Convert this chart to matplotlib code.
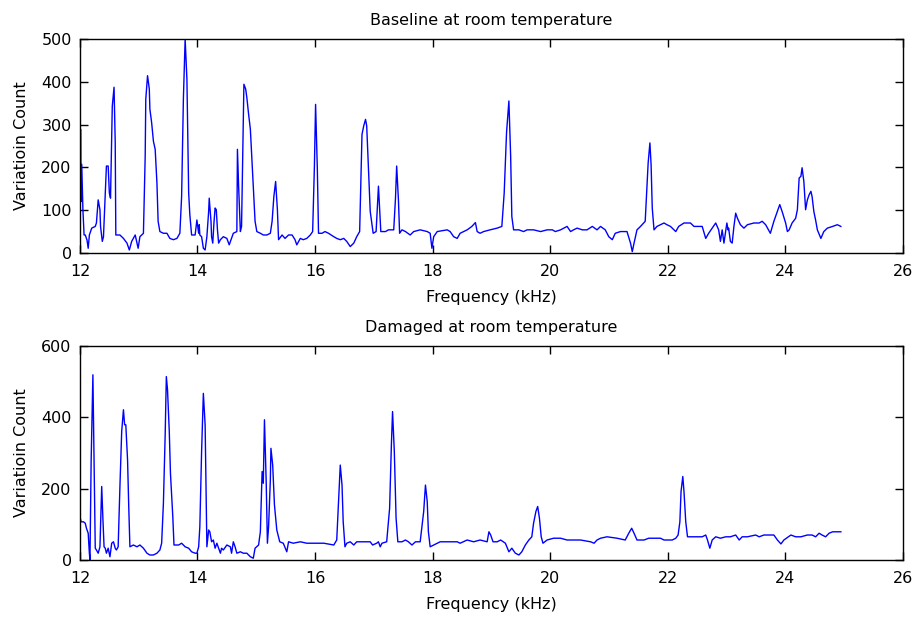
import matplotlib
matplotlib.use("Agg")
import matplotlib.pyplot as plt

plt.rcParams['font.family'] = ['DejaVu Sans']
plt.rcParams['font.size'] = 11.5

# Baseline at room temperature (frequency in kHz, variation count)
freq_base = [12.00, 12.01, 12.02, 12.03, 12.05, 12.07, 12.09, 12.12, 12.14, 12.16,
             12.20, 12.26, 12.28, 12.31, 12.34, 12.35, 12.38, 12.40, 12.43, 12.45,
             12.48, 12.50, 12.52, 12.55, 12.58, 12.60, 12.61, 12.68, 12.74, 12.80,
             12.84, 12.88, 12.94, 12.97, 12.99, 13.02, 13.08, 13.11, 13.12, 13.15,
             13.18, 13.19, 13.22, 13.25, 13.28, 13.31, 13.33, 13.36, 13.42, 13.48,
             13.53, 13.59, 13.65, 13.70, 13.73, 13.76, 13.79, 13.82, 13.85, 13.87,
             13.90, 13.96, 13.99, 14.02, 14.03, 14.04, 14.07, 14.10, 14.13, 14.16,
             14.19, 14.20, 14.23, 14.24, 14.26, 14.28, 14.30, 14.32, 14.34, 14.36,
             14.39, 14.44, 14.50, 14.54, 14.58, 14.61, 14.67, 14.68, 14.70, 14.73,
             14.75, 14.77, 14.79, 14.82, 14.84, 14.87, 14.90, 14.92, 14.95, 14.98,
             15.01, 15.07, 15.12, 15.18, 15.24, 15.27, 15.30, 15.33, 15.36, 15.38,
             15.44, 15.49, 15.55, 15.61, 15.66, 15.69, 15.75, 15.80, 15.86, 15.92,
             15.96, 15.99, 16.01, 16.04, 16.06, 16.12, 16.17, 16.23, 16.32, 16.37,
             16.43, 16.49, 16.54, 16.60, 16.66, 16.71, 16.76, 16.78, 16.80, 16.83,
             16.86, 16.88, 16.91, 16.94, 16.97, 16.99, 17.04, 17.08, 17.10, 17.12,
             17.20, 17.25, 17.34, 17.37, 17.39, 17.42, 17.44, 17.48, 17.54, 17.62,
             17.68, 17.79, 17.91, 17.96, 17.99, 18.02, 18.08, 18.25, 18.30, 18.36,
             18.42, 18.47, 18.59, 18.67, 18.73, 18.76, 18.81, 18.87, 18.98, 19.10,
             19.18, 19.22, 19.26, 19.30, 19.33, 19.35, 19.38, 19.47, 19.55, 19.61,
             19.72, 19.84, 19.95, 20.04, 20.09, 20.18, 20.29, 20.35, 20.40, 20.46,
             20.55, 20.63, 20.72, 20.80, 20.86, 20.94, 21.00, 21.06, 21.11, 21.20,
             21.31, 21.37, 21.40, 21.43, 21.48, 21.54, 21.62, 21.65, 21.67, 21.70,
             21.72, 21.74, 21.77, 21.82, 21.94, 21.99, 22.05, 22.11, 22.14, 22.19,
             22.28, 22.39, 22.45, 22.59, 22.65, 22.70, 22.76, 22.82, 22.87, 22.90,
             22.93, 22.96, 23.01, 23.03, 23.04, 23.07, 23.10, 23.13, 23.16, 23.19,
             23.24, 23.30, 23.36, 23.47, 23.56, 23.61, 23.67, 23.75, 23.81, 23.87,
             23.91, 23.95, 24.01, 24.04, 24.07, 24.12, 24.18, 24.21, 24.24, 24.27,
             24.29, 24.32, 24.35, 24.38, 24.41, 24.44, 24.46, 24.49, 24.52, 24.55,
             24.61, 24.66, 24.72, 24.81, 24.89, 24.95]
count_base = [38, 289, 120, 207, 101, 42, 42, 30, 11, 42,
              58, 62, 70, 124, 101, 62, 27, 38, 140, 203,
              203, 140, 128, 343, 387, 257, 42, 42, 34, 23,
              7, 27, 42, 23, 11, 38, 46, 226, 359, 414,
              383, 336, 304, 261, 242, 163, 74, 50, 46, 46,
              34, 31, 34, 46, 132, 359, 500, 406, 140, 89,
              42, 42, 77, 46, 66, 42, 38, 11, 7, 38,
              97, 128, 74, 38, 23, 70, 105, 101, 54, 23,
              31, 38, 34, 19, 34, 46, 50, 242, 156, 50,
              62, 222, 394, 383, 363, 324, 289, 234, 148, 74,
              50, 46, 42, 42, 46, 74, 132, 167, 101, 31,
              42, 34, 42, 42, 31, 19, 34, 31, 34, 42,
              50, 203, 347, 195, 46, 46, 50, 46, 38, 34,
              31, 34, 27, 15, 23, 38, 50, 163, 277, 297,
              312, 297, 199, 97, 66, 46, 50, 156, 101, 50,
              50, 54, 54, 128, 203, 124, 46, 54, 50, 42,
              50, 54, 50, 46, 11, 38, 50, 54, 50, 38,
              34, 46, 54, 62, 71, 50, 46, 50, 54, 58,
              62, 140, 281, 355, 226, 85, 54, 54, 50, 54,
              54, 50, 54, 54, 50, 54, 62, 50, 54, 58,
              54, 54, 62, 54, 62, 54, 38, 31, 46, 50,
              50, 23, 3, 23, 54, 62, 74, 156, 210, 257,
              207, 105, 54, 62, 70, 66, 62, 54, 50, 62,
              70, 70, 62, 62, 34, 46, 58, 70, 54, 27,
              54, 23, 70, 54, 58, 27, 23, 62, 93, 81,
              66, 58, 66, 70, 70, 74, 66, 46, 74, 97,
              113, 97, 70, 50, 54, 70, 81, 101, 175, 179,
              199, 167, 101, 124, 136, 144, 132, 97, 77, 54,
              34, 50, 58, 62, 66, 62]

# Damaged at room temperature
freq_dmg = [12.00, 12.02, 12.06, 12.09, 12.11, 12.14, 12.16, 12.17, 12.19, 12.22,
            12.24, 12.26, 12.28, 12.31, 12.34, 12.37, 12.39, 12.41, 12.43, 12.45,
            12.48, 12.51, 12.54, 12.57, 12.60, 12.62, 12.65, 12.68, 12.71, 12.74,
            12.76, 12.78, 12.81, 12.83, 12.85, 12.91, 12.97, 13.02, 13.08, 13.14,
            13.19, 13.25, 13.31, 13.36, 13.39, 13.42, 13.45, 13.47, 13.49, 13.52,
            13.54, 13.58, 13.60, 13.68, 13.73, 13.79, 13.85, 13.90, 13.96, 13.99,
            14.02, 14.04, 14.07, 14.10, 14.13, 14.16, 14.19, 14.21, 14.24, 14.27,
            14.30, 14.33, 14.39, 14.41, 14.44, 14.50, 14.56, 14.58, 14.61, 14.64,
            14.67, 14.73, 14.78, 14.84, 14.90, 14.95, 14.98, 15.04, 15.07, 15.10,
            15.12, 15.14, 15.17, 15.19, 15.21, 15.24, 15.25, 15.28, 15.31, 15.35,
            15.40, 15.46, 15.52, 15.55, 15.63, 15.75, 15.86, 15.97, 16.03, 16.15,
            16.32, 16.37, 16.40, 16.43, 16.46, 16.48, 16.51, 16.54, 16.60, 16.66,
            16.71, 16.83, 16.94, 16.98, 17.05, 17.08, 17.11, 17.14, 17.22, 17.27,
            17.30, 17.32, 17.35, 17.38, 17.41, 17.48, 17.54, 17.59, 17.65, 17.71,
            17.79, 17.85, 17.88, 17.91, 17.93, 17.96, 18.02, 18.08, 18.13, 18.25,
            18.42, 18.47, 18.59, 18.70, 18.81, 18.93, 18.96, 18.99, 19.03, 19.10,
            19.16, 19.24, 19.30, 19.35, 19.41, 19.47, 19.52, 19.58, 19.64, 19.69,
            19.72, 19.76, 19.79, 19.82, 19.85, 19.88, 19.95, 20.06, 20.18, 20.29,
            20.52, 20.69, 20.75, 20.80, 20.86, 20.97, 21.14, 21.28, 21.34, 21.39,
            21.43, 21.48, 21.60, 21.68, 21.88, 21.94, 22.08, 22.14, 22.18, 22.21,
            22.23, 22.26, 22.28, 22.31, 22.34, 22.45, 22.59, 22.65, 22.68, 22.72,
            22.76, 22.82, 22.90, 22.99, 23.07, 23.16, 23.22, 23.27, 23.36, 23.50,
            23.56, 23.64, 23.81, 23.87, 23.93, 23.98, 24.10, 24.18, 24.27, 24.38,
            24.46, 24.52, 24.58, 24.63, 24.69, 24.75, 24.81, 24.95]
count_dmg = [121, 107, 107, 103, 89, 75, 19, 0, 276, 519,
             276, 33, 28, 19, 37, 206, 117, 37, 33, 19,
             33, 9, 47, 51, 33, 28, 37, 206, 360, 421,
             379, 379, 280, 150, 37, 42, 37, 42, 33, 19,
             14, 14, 19, 28, 47, 159, 350, 514, 477, 360,
             243, 121, 42, 42, 47, 37, 33, 23, 19, 19,
             37, 93, 304, 467, 379, 37, 84, 79, 51, 56,
             33, 47, 19, 33, 28, 42, 37, 19, 51, 37,
             19, 23, 19, 19, 9, 5, 33, 42, 79, 248,
             215, 393, 215, 47, 93, 224, 313, 266, 154, 84,
             51, 47, 23, 51, 47, 51, 47, 47, 47, 47,
             42, 56, 159, 266, 210, 107, 37, 47, 51, 42,
             51, 51, 51, 42, 47, 51, 37, 47, 51, 145,
             322, 416, 304, 117, 51, 51, 56, 51, 42, 51,
             51, 136, 210, 164, 79, 37, 42, 47, 51, 51,
             51, 47, 56, 51, 56, 51, 79, 70, 51, 51,
             56, 47, 23, 33, 19, 14, 23, 42, 56, 65,
             103, 136, 150, 117, 65, 47, 56, 61, 61, 56,
             56, 51, 47, 56, 61, 65, 61, 56, 75, 89,
             75, 56, 56, 61, 61, 56, 56, 61, 70, 107,
             192, 234, 192, 107, 65, 65, 65, 70, 56, 33,
             56, 65, 61, 65, 65, 70, 56, 65, 65, 70,
             65, 70, 70, 56, 45, 56, 70, 65, 65, 70,
             70, 65, 75, 70, 65, 75, 79, 79]

x_ticks = [12, 14, 16, 18, 20, 22, 24, 26]

fig = plt.figure(figsize=(9.15, 6.17), dpi=100)
ax1 = fig.add_axes([0.0874, 0.590, 0.899, 0.347])
ax2 = fig.add_axes([0.0874, 0.0924, 0.899, 0.347])


def style(ax, ymax, yticks, title):
    ax.set_xlim(12, 26)
    ax.set_ylim(0, ymax)
    ax.set_xticks(x_ticks)
    ax.set_yticks(yticks)
    ax.tick_params(direction='in', length=6, width=1, top=True, right=True,
                   labelsize=11.5)
    ax.tick_params(axis='x', pad=8)
    ax.tick_params(axis='y', pad=6)
    for s in ax.spines.values():
        s.set_linewidth(1.0)
    ax.set_title(title, fontsize=11.5, pad=10)
    ax.set_xlabel('Frequency (kHz)', fontsize=11.5, labelpad=8)
    ax.set_ylabel('Variatioin Count', fontsize=11.5, labelpad=9)


ax1.plot(freq_base, count_base, color='#0000ff', linewidth=1.0)
style(ax1, 500, [0, 100, 200, 300, 400, 500], 'Baseline at room temperature')

ax2.plot(freq_dmg, count_dmg, color='#0000ff', linewidth=1.0)
style(ax2, 600, [0, 200, 400, 600], 'Damaged at room temperature')

fig.savefig('out.png', dpi=100)
